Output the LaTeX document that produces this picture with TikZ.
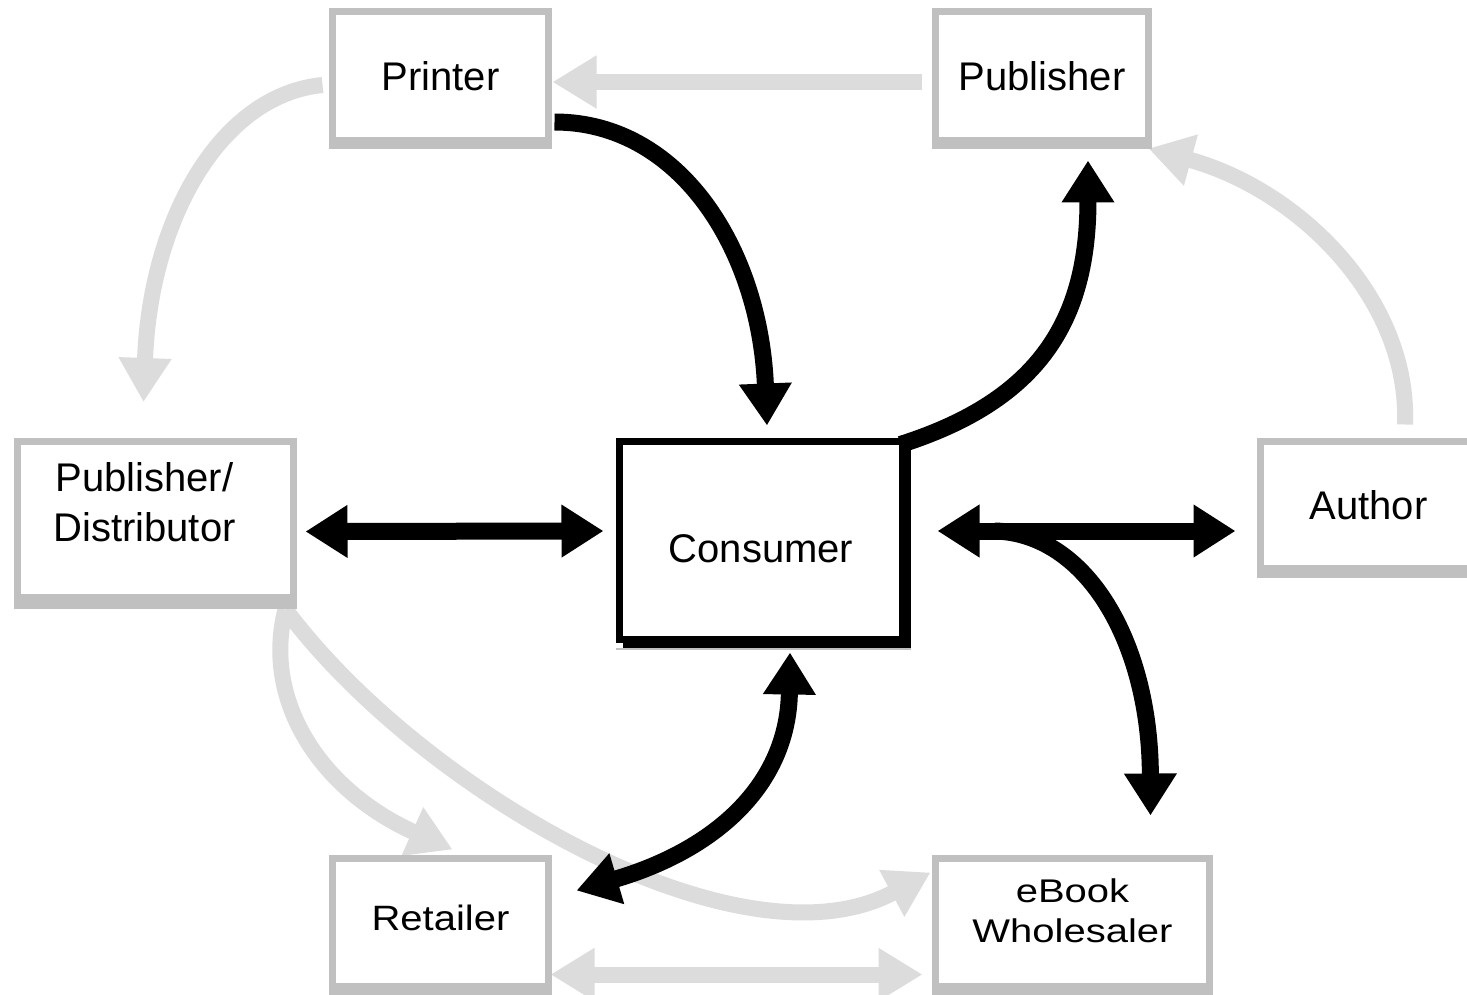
\documentclass[tikz,border=0pt]{standalone}
\usepackage{fontspec}
\setmainfont{Liberation Sans}
\usetikzlibrary{arrows.meta,calc}
\definecolor{boxgray}{RGB}{192,192,192}
\definecolor{arrgray}{RGB}{220,220,220}
\pgfdeclarelayer{paper}
\pgfdeclarelayer{under}
\pgfsetlayers{paper,under,main}
\newcommand\botbar[3]{\fill[#3] ($(#1.south west)+(-3.5,3)$) rectangle ($(#1.south east)+(3.5,#2)$);}
\begin{document}
\begin{tikzpicture}[x=1pt,y=-1pt,
  gbox/.style={draw=boxgray,line width=7pt,fill=white,inner sep=0pt,outer sep=0pt,align=center,
    font=\fontsize{40}{50}\selectfont},
  kbox/.style={gbox,draw=black},
  gtip/.tip={Triangle[length=44pt,width=50pt]},
  ktip/.tip={Triangle[length=42pt,width=50pt]},
  garrow/.style={draw=arrgray,line width=16pt,-gtip},
  gdouble/.style={draw=arrgray,line width=16pt,gtip-gtip},
  karrow/.style={draw=black,line width=17pt,-ktip},
  kdouble/.style={draw=black,line width=17pt,ktip-ktip},
]
\begin{pgfonlayer}{paper}
\fill[white] (0,0) rectangle (1467,995);
\end{pgfonlayer}
\useasboundingbox (0,0) rectangle (1467,995);

% boxes
\path
  node[gbox,minimum width=216pt,minimum height=129pt] (printer) at (440.5,76) {Printer}
  node[gbox,minimum width=213pt,minimum height=129pt] (publisher) at (1042,76) {Publisher}
  node[gbox,minimum width=276pt,minimum height=156pt,text height=45pt] (pubdist) at (155.5,519.5)
    {Publisher/\hspace*{22pt}\\Distributor\hspace*{22pt}}
  node[kbox,minimum width=283pt,minimum height=198pt,text height=44pt] (consumer) at (761,540.5) {Consumer}
  node[gbox,minimum width=216pt,minimum height=127pt] (author) at (1368.5,505) {Author}
  node[gbox,minimum width=216pt,minimum height=128pt,text depth=10pt] (retailer) at (440.5,922.5)
    {\scalebox{1}[0.88]{Retailer}}
  node[gbox,minimum width=274pt,minimum height=128pt,text depth=23pt,font=\fontsize{40}{40}\selectfont] (ebook) at (1072.5,922.5)
    {\scalebox{1}[0.82]{eBook}\\\scalebox{1}[0.82]{Wholesaler}};
\botbar{printer}{9}{boxgray}
\botbar{publisher}{9}{boxgray}
\botbar{pubdist}{11}{boxgray}
\botbar{author}{9}{boxgray}
\botbar{retailer}{12}{boxgray}
\botbar{ebook}{12}{boxgray}
\fill[black] ($(consumer.north east)+(3,3)$) rectangle ($(consumer.south east)+(8,8)$);
\fill[black] ($(consumer.south west)+(3,3)$) rectangle ($(consumer.south east)+(8,8)$);
\fill[boxgray] ($(consumer.south west)+(-3.5,8)$) rectangle ($(consumer.south east)+(8,10)$);

% gray connectors (behind the boxes)
\begin{pgfonlayer}{under}
\draw[garrow] ($(publisher.west)+(-14,6)$) -- ($(printer.east)+(4,6)$);
\draw[garrow] ($(printer.west)+(-10,9)$) .. controls (220,95) and (150,220) .. ($(pubdist.north)+(-12,-39.5)$);
\draw[garrow] ($(author.north)+(36.5,-17)$) .. controls (1410,300) and (1300,190) .. ($(publisher.south east)+(0,8)$);
\draw[garrow] ($(pubdist.south east)+(-8,12)$) .. controls (262,700) and (320,790) .. ($(retailer.north)+(12,-9)$);
\draw[garrow] ($(pubdist.south east)+(-8,12)$) .. controls (420,790) and (740,975) .. ($(ebook.west)+(-5,-50)$);
\draw[gdouble] ($(retailer.east)+(2,52)$) -- ($(ebook.west)+(-13,52)$);
\end{pgfonlayer}

% black connectors
\coordinate (fork) at ($(consumer.east)+(92,-9.5)$);
\draw[kdouble] ($(pubdist.east)+(12,12)$) -- ($(consumer.west)+(-16,-9.5)$);
\draw[kdouble] ($(consumer.east)+(35,-9.5)$) -- ($(author.west)+(-25,26)$);
\draw[karrow] (fork) .. controls (1085,533) and (1150,640) .. ($(ebook.north)+(78,-43)$);
\draw[karrow] ($(printer.east)+(6,46)$) .. controls (680,122) and (760,250) .. ($(consumer.north)+(6,-16)$);
\draw[karrow] ($(consumer.north east)+(-2,3)$) .. controls (1040,400) and (1088,320) .. ($(publisher.south)+(46,20)$);
\draw[kdouble] ($(consumer.south)+(29,13)$) .. controls (788,785) and (715,850) .. ($(retailer.north east)+(28,32)$);
\end{tikzpicture}
\end{document}
